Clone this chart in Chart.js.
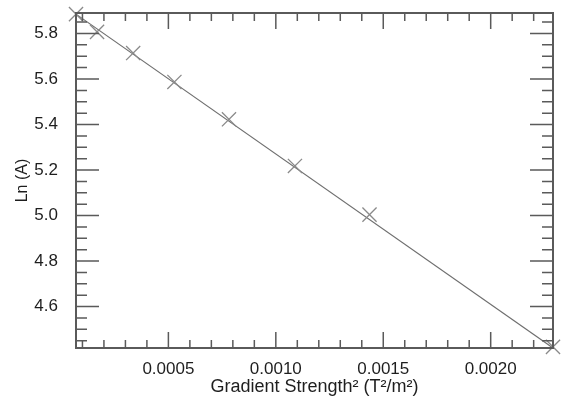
<!DOCTYPE html>
<html>
<head>
<meta charset="utf-8">
<script src="https://cdn.jsdelivr.net/npm/chart.js@4"></script>
<style>
  html, body { margin: 0; padding: 0; background: #fff; }
  #wrap { width: 561px; height: 398px; }
</style>
</head>
<body>
<div id="wrap"><canvas id="myChart"></canvas></div>
<script>
// measured points: gradient strength squared vs ln(A)
let gradSq = [0.00007, 0.000168, 0.000336, 0.000528, 0.000782, 0.001089, 0.001436, 0.00229]
let lnA = [5.885, 5.807, 5.714, 5.587, 5.423, 5.218, 5.004, 4.423]

// fitted straight line (two end points)
let fitX = [0.00007, 0.00229]
let fitY = [5.885, 4.418]

let xMajorTicks = [0.0005, 0.0010, 0.0015, 0.0020]
let xTickLabels = ["0.0005", "0.0010", "0.0015", "0.0020"]
let xMinorTicks = [0.0001, 0.0002, 0.0003, 0.0004, 0.0006, 0.0007, 0.0008, 0.0009,
    0.0011, 0.0012, 0.0013, 0.0014, 0.0016, 0.0017, 0.0018, 0.0019, 0.0021, 0.0022]

let yMajorTicks = [4.6, 4.8, 5.0, 5.2, 5.4, 5.6, 5.8]
let yTickLabels = ["4.6", "4.8", "5.0", "5.2", "5.4", "5.6", "5.8"]
let yMinorTicks = [4.45, 4.5, 4.55, 4.65, 4.7, 4.75, 4.85, 4.9, 4.95, 5.05, 5.1, 5.15,
    5.25, 5.3, 5.35, 5.45, 5.5, 5.55, 5.65, 5.7, 5.75, 5.85]

let frameColor = "#5a5a5a"
let textColor = "#1e1e1e"

// inner ticks on all four sides plus the box
let innerTicks = {
    id: "innerTicks",
    afterDatasetsDraw(chart) {
        let ctx = chart.ctx
        let a = chart.chartArea
        let xs = chart.scales.x
        let ys = chart.scales.y
        ctx.save()
        ctx.strokeStyle = frameColor
        ctx.lineWidth = 1.5
        ctx.beginPath()
        function xTick(v, len) {
            let px = xs.getPixelForValue(v)
            ctx.moveTo(px, a.bottom)
            ctx.lineTo(px, a.bottom - len)
            ctx.moveTo(px, a.top)
            ctx.lineTo(px, a.top + len)
        }
        function yTick(v, len) {
            let py = ys.getPixelForValue(v)
            ctx.moveTo(a.left, py)
            ctx.lineTo(a.left + len, py)
            ctx.moveTo(a.right, py)
            ctx.lineTo(a.right - len, py)
        }
        xMajorTicks.forEach(v => xTick(v, 16))
        xMinorTicks.forEach(v => xTick(v, 8))
        yMajorTicks.forEach(v => yTick(v, 23))
        yMinorTicks.forEach(v => yTick(v, 11))
        ctx.stroke()
        ctx.lineWidth = 2
        ctx.strokeRect(a.left, a.top, a.right - a.left, a.bottom - a.top)
        ctx.restore()
    }
}

let ctx1 = document.getElementById("myChart").getContext("2d")

let config = {
    type: "scatter",
    data: {
        datasets: [{
            data: gradSq.map((x, i) => ({ x: x, y: lnA[i] })),
            pointStyle: "crossRot",
            radius: 10,
            borderColor: "#8a8a8a",
            borderWidth: 1.3,
            clip: false,
        }, {
            type: "line",
            data: fitX.map((x, i) => ({ x: x, y: fitY[i] })),
            borderColor: "#6e6e6e",
            borderWidth: 1.2,
            pointRadius: 0,
            fill: false,
        }],
    },
    options: {
        responsive: true,
        maintainAspectRatio: false,
        animation: false,
        // no auto padding: the crosses may hang over the frame
        layout: { autoPadding: false, padding: { top: 13, right: 8, left: 0, bottom: 0 } },
        plugins: {
            legend: { display: false },
            tooltip: { enabled: false },
        },
        scales: {
            x: {
                type: "linear",
                min: 0.00007,
                max: 0.00229,
                grid: { display: false },
                border: { display: false },
                afterBuildTicks: (scale) => {
                    scale.ticks = xMajorTicks.map(v => ({ value: v }))
                },
                afterFit: (scale) => {
                    scale.height = 50
                    scale.paddingLeft = 0
                    scale.paddingRight = 0
                },
                ticks: {
                    padding: 3,
                    color: textColor,
                    font: { family: "Liberation Sans", size: 17 },
                    callback: function (value, index) {
                        return xTickLabels[index]
                    },
                },
                title: {
                    display: true,
                    text: "Gradient Strength² (T²/m²)",
                    color: textColor,
                    font: { family: "Liberation Sans", size: 18 },
                    padding: { top: 0, bottom: 0 },
                },
            },
            y: {
                type: "linear",
                min: 4.418,
                max: 5.89,
                grid: { display: false },
                border: { display: false },
                afterBuildTicks: (scale) => {
                    scale.ticks = yMajorTicks.map(v => ({ value: v }))
                },
                afterFit: (scale) => {
                    scale.width = 76
                    scale.paddingTop = 0
                    scale.paddingBottom = 0
                },
                ticks: {
                    padding: 10,
                    color: textColor,
                    font: { family: "Liberation Sans", size: 17 },
                    callback: function (value, index) {
                        return yTickLabels[index]
                    },
                },
                title: {
                    display: true,
                    text: "Ln (A)",
                    color: textColor,
                    font: { family: "Liberation Sans", size: 16 },
                    padding: { top: 13, bottom: 0 },
                },
            },
        },
    },
    plugins: [innerTicks],
}

let myChart = new Chart(ctx1, config)
</script>
</body>
</html>
